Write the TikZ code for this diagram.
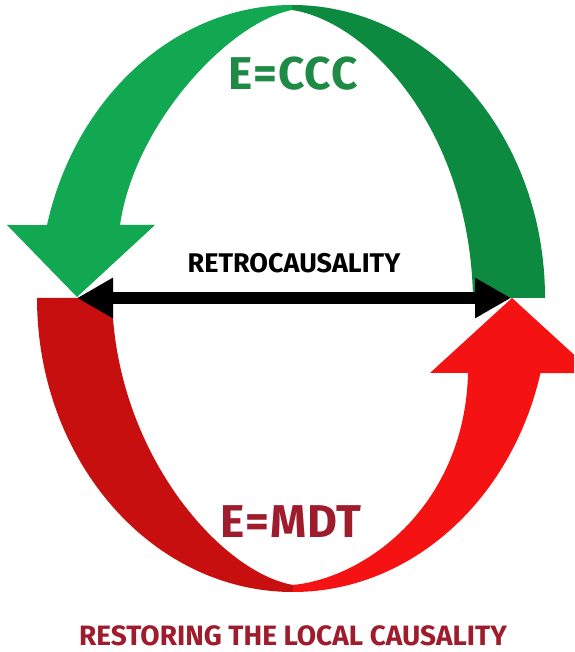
\documentclass[tikz,border=0pt]{standalone}
\usepackage{fontspec}
\setmainfont{Fira Sans}
\usetikzlibrary{arrows.meta}
\definecolor{lgreen}{HTML}{12A852}
\definecolor{dgreen}{HTML}{0C8A40}
\definecolor{txgreen}{HTML}{1F8A45}
\definecolor{dred}{HTML}{C80F10}
\definecolor{lred}{HTML}{F51212}
\definecolor{txred}{HTML}{9E1C2C}

\begin{document}
\begin{tikzpicture}[x=1pt, y=1pt,
  >={Triangle[length=36pt, width=38pt]},
  eqlbl/.style={font=\fontsize{46}{46}\selectfont\bfseries\addfontfeature{LetterSpace=2}},
  retrolbl/.style={font=\fontsize{27}{27}\selectfont\bfseries, text=black},
  footlbl/.style={font=\fontsize{28}{28}\selectfont\bfseries, text=txred},
]

% Page
\clip (0,0) rectangle (574,652);
\useasboundingbox (0,0) rectangle (574,652);

% === Upper arrow (green) ===
\fill[lgreen] (292,647) arc[start angle=90, end angle=165.6, x radius=253, y radius=293]
  -- (7,427) -- (77,355) -- (155,427) -- (120,427)
  .. controls (135,530) and (230,630) .. (292,642) -- cycle;
\fill[dgreen] (292,647) arc[start angle=90, end angle=0, x radius=253, y radius=293]
  -- (473,354) .. controls (470,520) and (370,630) .. (292,642) -- cycle;

% === Lower arrow (red) ===
\fill[dred] (37,354) arc[start angle=180, end angle=270, x radius=256, y radius=294]
  -- (293,67) .. controls (220,80) and (115,200) .. (112,354) -- cycle;
\fill[lred] (293,60) arc[start angle=270, end angle=345.2, x radius=256, y radius=294]
  -- (594,279) -- (512,354) -- (430,279) -- (468,279)
  .. controls (465,150) and (370,75) .. (293,67) -- cycle;

% === Double arrow ===
\coordinate (ltip) at (77,354);
\coordinate (rtip) at (511,354);
\draw[<->, line width=12pt] (ltip) -- (rtip);

% === Labels ===
\node[eqlbl, text=txgreen] (ccc) at (293,578) {E=CCC};
\node[retrolbl] (retro) at (294,389) {RETROCAUSALITY};
\node[eqlbl, text=txred] (mdt) at (291,130) {E=MDT};
\node[footlbl] (local) at (293,16) {RESTORING THE LOCAL CAUSALITY};

\end{tikzpicture}
\end{document}
